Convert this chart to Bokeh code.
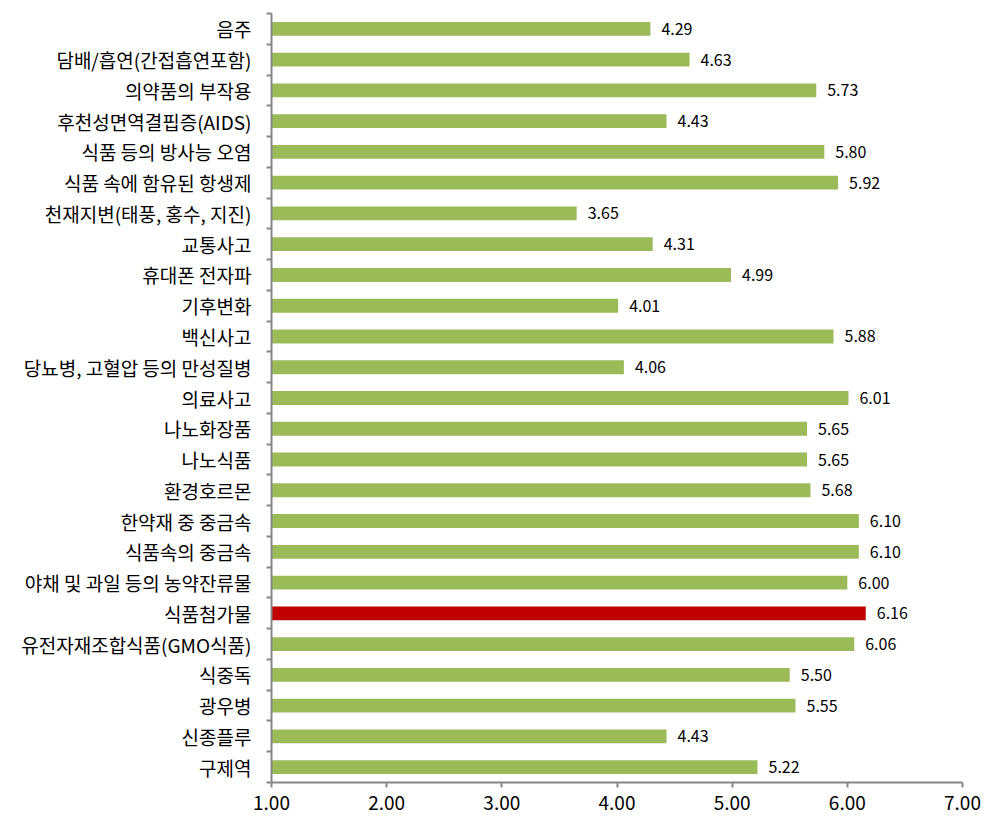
from bokeh.plotting import figure
from bokeh.models import ColumnDataSource, FixedTicker, Range1d, LabelSet
from bokeh.core.properties import value
from bokeh.embed import file_html
from bokeh.resources import INLINE

categories = ["음주", "담배/흡연(간접흡연포함)", "의약품의 부작용", "후천성면역결핍증(AIDS)",
              "식품 등의 방사능 오염", "식품 속에 함유된 항생제", "천재지변(태풍, 홍수, 지진)",
              "교통사고", "휴대폰 전자파", "기후변화", "백신사고", "당뇨병, 고혈압 등의 만성질병",
              "의료사고", "나노화장품", "나노식품", "환경호르몬", "한약재 중 중금속", "식품속의 중금속",
              "야채 및 과일 등의 농약잔류물", "식품첨가물", "유전자재조합식품(GMO식품)", "식중독",
              "광우병", "신종플루", "구제역"]
values = [4.29, 4.63, 5.73, 4.43, 5.80, 5.92, 3.65, 4.31, 4.99, 4.01, 5.88, 4.06,
          6.01, 5.65, 5.65, 5.68, 6.10, 6.10, 6.00, 6.16, 6.06, 5.50, 5.55, 4.43, 5.22]
x_ticks = [1, 2, 3, 4, 5, 6, 7]
x_tick_labels = ["1.00", "2.00", "3.00", "4.00", "5.00", "6.00", "7.00"]
highlight = "식품첨가물"

GREEN = "#9BBB59"
RED = "#C00000"
AXIS = "#868686"
FONT = "Noto Sans CJK KR"

n = len(categories)
ypos = [n - i - 0.5 for i in range(n)]
colors = [RED if c == highlight else GREEN for c in categories]
labels = ["%.2f" % v for v in values]

src = ColumnDataSource(dict(y=ypos, v=values, cat=categories, color=colors, lab=labels))

p = figure(width=992, height=829, output_backend="svg", toolbar_location=None,
           x_range=Range1d(1, 7), y_range=Range1d(0, n),
           min_border_left=271, min_border_right=30, min_border_top=13, min_border_bottom=47)
p.outline_line_color = None
p.grid.grid_line_color = None
p.background_fill_color = "white"

p.hbar(y="y", left=1, right="v", height=0.45, color="color", source=src, line_color=None)

lbl = LabelSet(x="v", y="y", text="lab", source=src, x_offset=11, text_baseline="middle",
               text_font=value(FONT), text_font_size="16px", text_color="#000000")
p.add_layout(lbl)

# x axis
p.xaxis.ticker = FixedTicker(ticks=x_ticks)
p.xaxis.major_label_overrides = {t: l for t, l in zip(x_ticks, x_tick_labels)}
p.xaxis.axis_line_color = AXIS
p.xaxis.axis_line_width = 2
p.xaxis.major_tick_line_color = AXIS
p.xaxis.major_tick_line_width = 2
p.xaxis.major_tick_out = 5
p.xaxis.major_tick_in = 0
p.xaxis.minor_tick_line_color = None
p.xaxis.major_label_text_font = FONT
p.xaxis.major_label_text_font_size = "19px"
p.xaxis.major_label_text_font_style = "normal"
p.xaxis.major_label_text_color = "#000000"
p.xaxis.major_label_standoff = 8

# y axis
p.yaxis.ticker = FixedTicker(ticks=ypos, minor_ticks=list(range(n + 1)))
p.yaxis.major_label_overrides = {y: c for y, c in zip(ypos, categories)}
p.yaxis.axis_line_color = AXIS
p.yaxis.axis_line_width = 2
p.yaxis.major_tick_line_color = None
p.yaxis.minor_tick_line_color = AXIS
p.yaxis.minor_tick_line_width = 2
p.yaxis.minor_tick_out = 5
p.yaxis.minor_tick_in = 0
p.yaxis.major_label_text_font = FONT
p.yaxis.major_label_text_font_size = "19px"
p.yaxis.major_label_text_color = "#000000"
p.yaxis.major_label_standoff = 14

open("out.html", "w").write(file_html(p, INLINE))
